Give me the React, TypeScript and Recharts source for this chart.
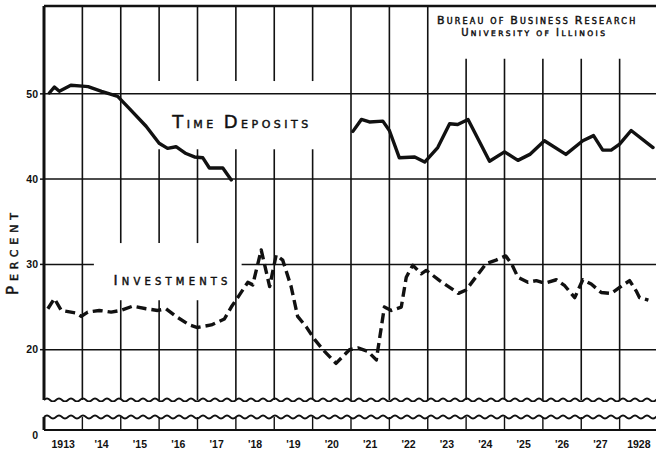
import React from 'react';
import { LineChart, Line, XAxis, YAxis, ReferenceLine, ReferenceDot } from 'recharts';

// ---------- data ----------
const years = [1913, 1914, 1915, 1916, 1917, 1918, 1919, 1920, 1921, 1922, 1923, 1924, 1925, 1926, 1927, 1928];
const yearLabels = ['1913', "'14", "'15", "'16", "'17", "'18", "'19", "'20", "'21", "'22", "'23", "'24", "'25", "'26", "'27", '1928'];
const yTicks = [20, 30, 40, 50];
const stripTicks = [0];

const timeDepTimes = [
  1913.14, 1913.27, 1913.4, 1913.7, 1914.0, 1914.15, 1914.5, 1914.92, 1915.22, 1915.66,
  1916.0, 1916.22, 1916.44, 1916.7, 1916.92, 1917.14, 1917.31, 1917.66, 1917.88,
  1919.5,
  1921.05, 1921.27, 1921.48, 1921.83, 1922.0, 1922.26, 1922.66, 1922.92, 1923.26, 1923.57,
  1923.78, 1924.05, 1924.61, 1925.0, 1925.35, 1925.66, 1926.04, 1926.6, 1927.04, 1927.32,
  1927.56, 1927.78, 1928.0, 1928.3, 1928.87,
];
const timeDepValues: (number | null)[] = [
  50.1, 50.8, 50.3, 51.0, 50.9, 50.85, 50.3, 49.7, 48.3, 46.2,
  44.2, 43.6, 43.8, 43.0, 42.6, 42.5, 41.3, 41.3, 39.9,
  null,
  45.6, 47.0, 46.7, 46.8, 45.7, 42.5, 42.6, 42.0, 43.7, 46.5,
  46.4, 47.0, 42.1, 43.2, 42.2, 42.9, 44.5, 42.9, 44.5, 45.1,
  43.4, 43.4, 44.1, 45.7, 43.7,
];

const investTimes = [
  1913.1, 1913.27, 1913.45, 1913.84, 1913.97, 1914.14, 1914.44, 1914.75, 1915.0, 1915.31,
  1915.66, 1915.96, 1916.18, 1916.44, 1916.79, 1917.0, 1917.36, 1917.7, 1917.88, 1918.09,
  1918.31, 1918.44, 1918.66, 1918.88, 1919.05, 1919.22, 1919.44, 1919.61, 1919.83, 1920.05,
  1920.31, 1920.61, 1920.96, 1921.18, 1921.44, 1921.66, 1921.87, 1922.05, 1922.31, 1922.44,
  1922.61, 1922.83, 1922.96, 1923.31, 1923.8, 1924.0, 1924.52, 1924.78, 1925.03, 1925.18,
  1925.35, 1925.61, 1925.83, 1926.05, 1926.35, 1926.57, 1926.83, 1927.04, 1927.26, 1927.52,
  1927.78, 1928.0, 1928.26, 1928.43, 1928.52, 1928.75,
];
const investValues = [
  24.8, 26.0, 24.6, 24.3, 23.9, 24.4, 24.6, 24.4, 24.6, 25.1,
  24.8, 24.6, 24.8, 23.9, 22.9, 22.6, 22.9, 23.6, 25.0, 26.4,
  27.9, 27.6, 31.7, 27.4, 31.1, 30.5, 27.4, 23.9, 22.7, 21.2,
  19.8, 18.4, 20.0, 20.2, 19.8, 18.8, 25.0, 24.6, 25.0, 28.5,
  29.9, 28.9, 29.3, 28.1, 26.6, 27.0, 30.1, 30.5, 31.0, 30.1,
  28.5, 27.9, 28.1, 27.8, 28.2, 27.5, 26.1, 28.2, 27.7, 26.7,
  26.6, 27.3, 28.1, 26.9, 26.1, 25.8,
];

const timeDepData = timeDepTimes.map((t, i) => ({ t, v: timeDepValues[i] }));
const investData = investTimes.map((t, i) => ({ t, v: investValues[i] }));

// ---------- layout ----------
const X_MIN = 1913;
const X_MAX = 1929;
const Y_MIN = 14.1;
const Y_MAX = 60.3;
const INK = '#111';

// regions kept clear of grid lines (label areas)
const clearBoxes = [
  { x0: 1915.7, x1: 1920.5, y0: 43.5, y1: 51.5 },
  { x0: 1914.3, x1: 1917.9, y0: 25.8, y1: 32.5 },
  { x0: 1923.3, x1: 1929, y0: 54.1, y1: 61 },
];

function verticalSegments(x: number): [number, number][] {
  let segs: [number, number][] = [[Y_MIN, Y_MAX]];
  clearBoxes.forEach((b) => {
    if (x > b.x0 && x < b.x1) {
      const next: [number, number][] = [];
      segs.forEach(([a, c]) => {
        if (b.y1 <= a || b.y0 >= c) next.push([a, c]);
        else {
          if (b.y0 > a) next.push([a, b.y0]);
          if (b.y1 < c) next.push([b.y1, c]);
        }
      });
      segs = next;
    }
  });
  return segs;
}

const Wavy = (p: any) => {
  const { x1, y1, x2 } = p;
  if (x1 == null || y1 == null || x2 == null) return <g />;
  let d = `M${x1},${y1}`;
  let k = 0;
  for (let x = x1; x < x2; x += 6, k++) {
    const off = k % 2 === 0 ? -3 : 3;
    d += ` Q${x + 3},${y1 + off} ${x + 6},${y1}`;
  }
  return <path d={d} stroke={INK} strokeWidth={1.8} fill="none" />;
};

const capsText = (
  parts: { s: string; big: boolean }[],
  big: number,
  small: number,
  width: number | null,
  spacing = 0,
) => (p: any) => {
  if (p.cx == null) return <g />;
  const lenProps: any = width ? { textLength: width, lengthAdjust: 'spacing' } : { letterSpacing: spacing };
  return (
    <text
      x={p.cx}
      y={p.cy}
      {...lenProps}
      fill={INK}
      stroke={INK}
      strokeWidth={0.45}
      fontFamily="'DejaVu Sans', sans-serif"
      style={{ whiteSpace: 'pre' }}
    >
      {parts.map((q, i) => (
        <tspan key={i} fontSize={q.big ? big : small}>{q.s}</tspan>
      ))}
    </text>
  );
};

const TimeDepLabel = capsText(
  [
    { s: 'T', big: true }, { s: 'IME ', big: false }, { s: 'D', big: true }, { s: 'EPOSITS', big: false },
  ],
  18, 11, 136,
);
const InvestLabel = capsText(
  [{ s: 'I', big: true }, { s: 'NVESTMENTS', big: false }],
  14, 10, 114,
);
const BureauLabel = capsText(
  [
    { s: 'B', big: true }, { s: 'UREAU OF ', big: false }, { s: 'B', big: true }, { s: 'USINESS ', big: false },
    { s: 'R', big: true }, { s: 'ESEARCH', big: false },
  ],
  11, 8, null, 2.2,
);
const UnivLabel = capsText(
  [
    { s: 'U', big: true }, { s: 'NIVERSITY OF ', big: false }, { s: 'I', big: true }, { s: 'LLINOIS', big: false },
  ],
  10, 7.5, null, 2.4,
);

const ZeroTick = (p: any) => (
  <text
    x={p.x}
    y={p.y + 9}
    textAnchor="end"
    fontSize={10.5}
    fontWeight="bold"
    fontFamily="'Liberation Sans', Arial, sans-serif"
    fill={INK}
  >
    {String(p.payload?.value ?? 0)}
  </text>
);

export default function App() {
  const yearBoundaries = years.slice(1);
  const labelTicks = years.map((y) => y + 0.5);
  const tickFont = { fontSize: 10.5, fontWeight: 'bold', fontFamily: "'Liberation Sans', Arial, sans-serif", fill: INK } as any;

  return (
    <div
      style={{
        position: 'absolute',
        left: 0,
        top: 0,
        width: 656,
        height: 451,
        overflow: 'hidden',
        background: '#fff',
      }}
    >
      <div style={{ position: 'absolute', left: 0, top: 0 }}>
        <LineChart width={660} height={402} margin={{ top: 6, right: 2, bottom: 2, left: 0 }}>
          <XAxis type="number" dataKey="t" domain={[X_MIN, X_MAX]} hide allowDataOverflow />
          <YAxis
            type="number"
            domain={[Y_MIN, Y_MAX]}
            ticks={yTicks}
            width={44}
            allowDataOverflow
            axisLine={{ stroke: INK, strokeWidth: 3 }}
            tickLine={{ stroke: INK, strokeWidth: 1.5 }}
            tickSize={4}
            tickMargin={2}
            tick={tickFont}
          />
          {yearBoundaries.map((x) =>
            verticalSegments(x).map(([a, b], j) => (
              <ReferenceLine
                key={`v${x}-${j}`}
                segment={[{ x, y: a }, { x, y: b }]}
                stroke={INK}
                strokeWidth={1.6}
                ifOverflow="visible"
              />
            )),
          )}
          <ReferenceLine y={20} stroke={INK} strokeWidth={1.5} />
          <ReferenceLine y={40} stroke={INK} strokeWidth={1.5} />
          <ReferenceLine y={50} stroke={INK} strokeWidth={1.5} />
          <ReferenceLine segment={[{ x: X_MIN, y: 30 }, { x: 1914.3, y: 30 }]} stroke={INK} strokeWidth={1.5} />
          <ReferenceLine segment={[{ x: 1918.15, y: 30 }, { x: X_MAX, y: 30 }]} stroke={INK} strokeWidth={1.5} />
          <ReferenceLine y={Y_MAX} stroke={INK} strokeWidth={2.5} ifOverflow="visible" />
          <ReferenceLine y={Y_MIN} stroke={INK} shape={Wavy} ifOverflow="visible" />
          <ReferenceDot x={1916.34} y={46.0} r={0} shape={TimeDepLabel} />
          <ReferenceDot x={1914.81} y={27.6} r={0} shape={InvestLabel} />
          <ReferenceDot x={1923.24} y={58.15} r={0} shape={BureauLabel} />
          <ReferenceDot x={1923.87} y={56.75} r={0} shape={UnivLabel} />
          <Line
            data={timeDepData}
            dataKey="v"
            type="linear"
            stroke={INK}
            strokeWidth={3.4}
            strokeLinejoin="round"
            strokeLinecap="round"
            dot={false}
            activeDot={false}
            connectNulls={false}
            isAnimationActive={false}
          />
          <Line
            data={investData}
            dataKey="v"
            type="linear"
            stroke={INK}
            strokeWidth={3.4}
            strokeDasharray="10 5"
            strokeLinejoin="round"
            dot={false}
            activeDot={false}
            isAnimationActive={false}
          />
        </LineChart>
      </div>
      <div style={{ position: 'absolute', left: 0, top: 400 }}>
        <LineChart
          width={660}
          height={51}
          data={investData}
          margin={{ top: 17, right: 2, bottom: 0, left: 0 }}
        >
          <XAxis
            type="number"
            dataKey="t"
            domain={[X_MIN, X_MAX]}
            ticks={labelTicks}
            tickFormatter={(v: number) => yearLabels[years.indexOf(Math.floor(v))] ?? ''}
            interval={0}
            height={21}
            axisLine={{ stroke: INK, strokeWidth: 1.8 }}
            tickLine={false}
            tickSize={0}
            tickMargin={11}
            tick={tickFont}
            allowDataOverflow
          />
          <YAxis
            type="number"
            domain={[0, 1]}
            ticks={stripTicks}
            width={44}
            allowDataOverflow
            axisLine={{ stroke: INK, strokeWidth: 3 }}
            tickLine={false}
            tickSize={0}
            tickMargin={6}
            tick={ZeroTick}
          />
          {yearBoundaries.map((x) => (
            <ReferenceLine key={`b${x}`} x={x} stroke={INK} strokeWidth={1.4} ifOverflow="visible" />
          ))}
          <ReferenceLine y={1} stroke={INK} shape={Wavy} ifOverflow="visible" />
        </LineChart>
      </div>
      <svg
        width={40}
        height={451}
        style={{ position: 'absolute', left: 0, top: 0, pointerEvents: 'none' }}
      >
        <text
          transform="rotate(-90)"
          x={-254}
          y={18}
          textAnchor="middle"
          textLength={82}
          lengthAdjust="spacing"
          fill={INK}
          stroke={INK}
          strokeWidth={0.45}
          fontFamily="'DejaVu Sans', sans-serif"
        >
          <tspan fontSize={15}>P</tspan>
          <tspan fontSize={11}>ERCENT</tspan>
        </text>
      </svg>
    </div>
  );
}
